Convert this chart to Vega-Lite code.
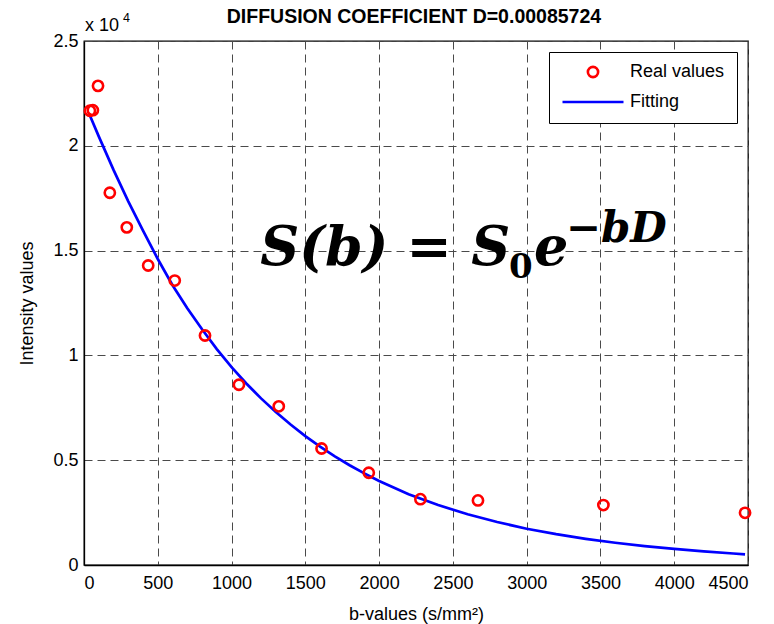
{
  "$schema": "https://vega.github.io/schema/vega-lite/v6.json",
  "width": 664,
  "height": 524,
  "autosize": {"type": "none"},
  "padding": {"left": 84, "top": 41, "right": 26, "bottom": 59},
  "background": "white",
  "config": {
    "view": {"stroke": "black", "strokeWidth": 1.3},
    "font": "Liberation Sans",
    "axis": {"labelFont": "Liberation Sans", "labelFontSize": 18, "labelColor": "black", "titleFont": "Liberation Sans", "titleFontSize": 18, "titleFontWeight": "normal", "titleColor": "black", "domainColor": "black", "domainWidth": 1.3, "ticks": false, "gridColor": "#4a4a4a", "gridDash": [8, 5], "gridWidth": 1, "gridOpacity": 1},
    "legend": {"labelFont": "Liberation Sans", "labelFontSize": 18, "labelColor": "black"}
  },
  "datasets": {
    "points": [
      {"b": 40, "S": 21670, "series": "Real values"},
      {"b": 60, "S": 21700, "series": "Real values"},
      {"b": 95, "S": 22860, "series": "Real values"},
      {"b": 175, "S": 17760, "series": "Real values"},
      {"b": 290, "S": 16110, "series": "Real values"},
      {"b": 435, "S": 14290, "series": "Real values"},
      {"b": 615, "S": 13570, "series": "Real values"},
      {"b": 820, "S": 10950, "series": "Real values"},
      {"b": 1050, "S": 8600, "series": "Real values"},
      {"b": 1320, "S": 7570, "series": "Real values"},
      {"b": 1610, "S": 5560, "series": "Real values"},
      {"b": 1930, "S": 4400, "series": "Real values"},
      {"b": 2280, "S": 3140, "series": "Real values"},
      {"b": 2670, "S": 3080, "series": "Real values"},
      {"b": 3520, "S": 2860, "series": "Real values"},
      {"b": 4480, "S": 2490, "series": "Real values"}
    ],
    "fit": [
      {"b": 40, "S": 21450, "series": "Fitting"},
      {"b": 100, "S": 20450, "series": "Fitting"},
      {"b": 200, "S": 18850, "series": "Fitting"},
      {"b": 300, "S": 17350, "series": "Fitting"},
      {"b": 400, "S": 15950, "series": "Fitting"},
      {"b": 500, "S": 14600, "series": "Fitting"},
      {"b": 600, "S": 13350, "series": "Fitting"},
      {"b": 700, "S": 12250, "series": "Fitting"},
      {"b": 800, "S": 11250, "series": "Fitting"},
      {"b": 900, "S": 10300, "series": "Fitting"},
      {"b": 1000, "S": 9440, "series": "Fitting"},
      {"b": 1100, "S": 8660, "series": "Fitting"},
      {"b": 1200, "S": 7950, "series": "Fitting"},
      {"b": 1300, "S": 7300, "series": "Fitting"},
      {"b": 1400, "S": 6700, "series": "Fitting"},
      {"b": 1500, "S": 6150, "series": "Fitting"},
      {"b": 1600, "S": 5650, "series": "Fitting"},
      {"b": 1700, "S": 5180, "series": "Fitting"},
      {"b": 1800, "S": 4760, "series": "Fitting"},
      {"b": 1900, "S": 4370, "series": "Fitting"},
      {"b": 2000, "S": 4010, "series": "Fitting"},
      {"b": 2200, "S": 3380, "series": "Fitting"},
      {"b": 2400, "S": 2860, "series": "Fitting"},
      {"b": 2600, "S": 2420, "series": "Fitting"},
      {"b": 2800, "S": 2050, "series": "Fitting"},
      {"b": 3000, "S": 1730, "series": "Fitting"},
      {"b": 3200, "S": 1470, "series": "Fitting"},
      {"b": 3400, "S": 1250, "series": "Fitting"},
      {"b": 3600, "S": 1060, "series": "Fitting"},
      {"b": 3800, "S": 900, "series": "Fitting"},
      {"b": 4000, "S": 770, "series": "Fitting"},
      {"b": 4200, "S": 650, "series": "Fitting"},
      {"b": 4400, "S": 550, "series": "Fitting"},
      {"b": 4480, "S": 510, "series": "Fitting"}
    ]
  },
  "layer": [
    {
      "data": {"name": "fit"},
      "mark": {"type": "line", "strokeWidth": 2.7},
      "encoding": {
        "x": {"field": "b", "type": "quantitative", "scale": {"domain": [0, 4500], "nice": false}, "axis": {"values": [0, 500, 1000, 1500, 2000, 2500, 3000, 3500, 4000, 4500], "format": "d", "title": "b-values (s/mm²)", "titlePadding": 13, "labelPadding": 9}},
        "y": {"field": "S", "type": "quantitative", "scale": {"domain": [0, 25000], "nice": false}, "axis": {"values": [0, 5000, 10000, 15000, 20000, 25000], "labelExpr": "datum.value / 10000", "title": "Intensity values", "titlePadding": 16, "labelPadding": 6}},
        "color": {"field": "series", "type": "nominal", "scale": {"domain": ["Real values", "Fitting"], "range": ["#ff0000", "#0000ff"]},
          "legend": {"title": null, "orient": "top-right", "offset": 11, "strokeColor": "black", "fillColor": "white", "padding": 12, "clipHeight": 16, "rowPadding": 12, "labelOffset": 5, "labelFontSize": 18,
            "encode": {"symbols": {"update": {"shape": {"signal": "datum.value === 'Real values' ? 'circle' : 'stroke'"}, "size": {"signal": "datum.value === 'Real values' ? 105 : 3721"}, "fill": {"value": "transparent"}, "strokeWidth": {"value": 2.6}}}}}}
      }
    },
    {
      "data": {"name": "points"},
      "mark": {"type": "point", "filled": false, "strokeWidth": 2.6, "size": 105, "opacity": 1},
      "encoding": {
        "x": {"field": "b", "type": "quantitative"},
        "y": {"field": "S", "type": "quantitative"},
        "color": {"field": "series", "type": "nominal"}
      }
    },
    {
      "data": {"values": [{}]},
      "mark": {"type": "text", "text": "DIFFUSION COEFFICIENT D=0.00085724", "font": "Liberation Sans", "fontSize": 19.5, "fontWeight": "bold", "align": "center", "baseline": "middle", "color": "black"},
      "encoding": {"x": {"datum": 2236}, "y": {"datum": 26145}}
    },
    {
      "data": {"values": [{}]},
      "mark": {"type": "text", "text": "x 10", "font": "Liberation Sans", "fontSize": 18, "align": "left", "baseline": "alphabetic", "color": "black"},
      "encoding": {"x": {"datum": 7}, "y": {"datum": 25477}}
    },
    {
      "data": {"values": [{}]},
      "mark": {"type": "text", "text": "4", "font": "Liberation Sans", "fontSize": 12.5, "align": "left", "baseline": "alphabetic", "color": "black"},
      "encoding": {"x": {"datum": 264}, "y": {"datum": 25906}}
    },
    {
      "data": {"values": [{}]},
      "mark": {"type": "text", "text": "S(b)", "font": "DejaVu Serif", "fontSize": 54, "fontWeight": "bold", "fontStyle": "italic", "align": "left", "baseline": "alphabetic", "color": "black"},
      "encoding": {"x": {"datum": 1195}, "y": {"datum": 14313}}
    },
    {
      "data": {"values": [{}]},
      "mark": {"type": "text", "text": "=", "font": "DejaVu Serif", "fontSize": 54, "fontWeight": "bold", "align": "left", "baseline": "alphabetic", "color": "black"},
      "encoding": {"x": {"datum": 2185}, "y": {"datum": 14313}}
    },
    {
      "data": {"values": [{}]},
      "mark": {"type": "text", "text": "S", "font": "DejaVu Serif", "fontSize": 54, "fontWeight": "bold", "fontStyle": "italic", "align": "left", "baseline": "alphabetic", "color": "black"},
      "encoding": {"x": {"datum": 2625}, "y": {"datum": 14313}}
    },
    {
      "data": {"values": [{}]},
      "mark": {"type": "text", "text": "0", "font": "DejaVu Serif", "fontSize": 34, "fontWeight": "bold", "align": "left", "baseline": "alphabetic", "color": "black"},
      "encoding": {"x": {"datum": 2880}, "y": {"datum": 13693}}
    },
    {
      "data": {"values": [{}]},
      "mark": {"type": "text", "text": "e", "font": "DejaVu Serif", "fontSize": 54, "fontWeight": "bold", "fontStyle": "italic", "align": "left", "baseline": "alphabetic", "color": "black"},
      "encoding": {"x": {"datum": 3050}, "y": {"datum": 14313}}
    },
    {
      "data": {"values": [{}]},
      "mark": {"type": "text", "text": "−bD", "font": "DejaVu Serif", "fontSize": 42, "fontWeight": "bold", "fontStyle": "italic", "align": "left", "baseline": "alphabetic", "color": "black"},
      "encoding": {"x": {"datum": 3265}, "y": {"datum": 15410}}
    }
  ]
}
